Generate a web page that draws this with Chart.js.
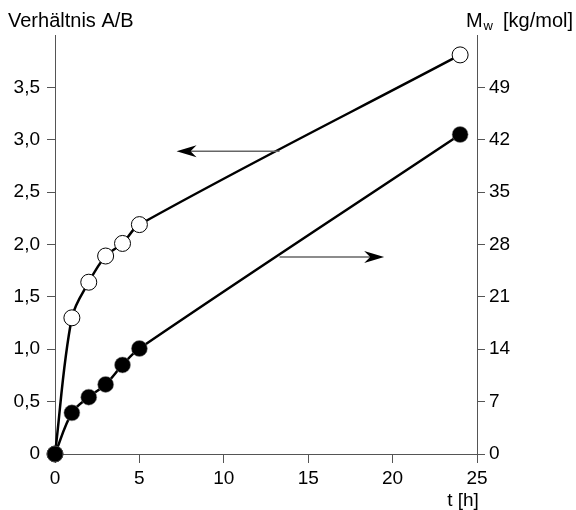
<!DOCTYPE html>
<html>
<head>
<meta charset="utf-8">
<script src="https://cdn.jsdelivr.net/npm/chart.js@4"></script>
<style>
  html, body { margin: 0; padding: 0; background: #fff; }
  #wrap { width: 576px; height: 510px; }
</style>
</head>
<body>
<div id="wrap"><canvas id="chart" width="576" height="510"></canvas></div>
<script>
// time in hours
const hours = [0, 1, 2, 3, 4, 5, 24];
// ratio A/B (left axis, open circles)
const ratioAB = [0, 1.30, 1.64, 1.89, 2.01, 2.19, 3.81];
// Mw in kg/mol (right axis, filled circles)
const molWeight = [0, 5.5, 7.6, 9.3, 11.9, 14.1, 42.7];

const xTicks = [0, 5, 10, 15, 20, 25];
// arrows in data units: [x from, x to, y on left axis]
const arrowLeft = [13.3, 7.2, 2.89];
const arrowRight = [13.3, 19.5, 1.88];

const FONT = '"Liberation Sans", Arial, sans-serif';
const axisColor = '#555';

const toPoints = (xs, ys) => xs.map((x, i) => ({ x: x, y: ys[i] }));

const decorations = {
  id: 'decorations',
  afterDatasetsDraw(chart) {
    const ctx = chart.ctx;
    const xs = chart.scales.x;
    const yl = chart.scales.y;

    const drawArrow = (a) => {
      const x1 = xs.getPixelForValue(a[0]);
      const x2 = xs.getPixelForValue(a[1]);
      const y = yl.getPixelForValue(a[2]);
      const dir = Math.sign(x2 - x1);
      ctx.save();
      ctx.strokeStyle = '#666';
      ctx.lineWidth = 1.5;
      ctx.beginPath();
      ctx.moveTo(x1, y);
      ctx.lineTo(x2 - dir * 10, y);
      ctx.stroke();
      ctx.fillStyle = '#000';
      ctx.beginPath();
      ctx.moveTo(x2, y);
      ctx.lineTo(x2 - dir * 20, y - 6);
      ctx.lineTo(x2 - dir * 14, y);
      ctx.lineTo(x2 - dir * 20, y + 6);
      ctx.closePath();
      ctx.fill();
      ctx.restore();
    };
    drawArrow(arrowLeft);
    drawArrow(arrowRight);

    ctx.save();
    ctx.fillStyle = '#000';
    ctx.font = '20px ' + FONT;
    ctx.textBaseline = 'alphabetic';
    ctx.textAlign = 'left';
    ctx.fillText('Verhältnis A/B', 8, 27);

    // M_w [kg/mol] with subscript
    ctx.textAlign = 'right';
    ctx.fillText('[kg/mol]', 573, 27);
    const wBracket = ctx.measureText('[kg/mol]').width;
    ctx.font = '13px ' + FONT;
    const subX = 573 - wBracket - 10;
    ctx.fillText('w', subX, 30);
    const wSub = ctx.measureText('w').width;
    ctx.font = '20px ' + FONT;
    ctx.fillText('M', subX - wSub - 1, 27);

    ctx.font = '19px ' + FONT;
    ctx.textAlign = 'center';
    ctx.textBaseline = 'middle';
    ctx.fillText('t [h]', 463, 501);
    ctx.restore();
  }
};

new Chart(document.getElementById('chart'), {
  type: 'line',
  data: {
    datasets: [
      {
        label: 'Mw',
        data: toPoints(hours, molWeight),
        yAxisID: 'y2',
        borderColor: '#000',
        borderWidth: 2.5,
        backgroundColor: '#000',
        pointBackgroundColor: '#000',
        pointBorderColor: '#888',
        pointBorderWidth: 0.5,
        pointRadius: 8,
        tension: 0.35,
        clip: false
      },
      {
        label: 'A/B',
        data: toPoints(hours, ratioAB),
        yAxisID: 'y',
        borderColor: '#000',
        borderWidth: 2.5,
        pointBackgroundColor: '#fff',
        pointBorderColor: '#000',
        pointBorderWidth: 1,
        pointRadius: 8,
        tension: 0.35,
        clip: false
      }
    ]
  },
  options: {
    responsive: false,
    animation: false,
    layout: { padding: { top: 35, left: 0, right: 0, bottom: 0 } },
    plugins: {
      legend: { display: false },
      tooltip: { enabled: false }
    },
    scales: {
      x: {
        type: 'linear',
        min: 0,
        max: 25,
        afterBuildTicks: (s) => { s.ticks = xTicks.map(v => ({ value: v })); },
        afterFit: (s) => { s.height = 56; },
        grid: { drawOnChartArea: false, drawTicks: true, tickLength: 9, color: axisColor },
        border: { display: true, color: axisColor, width: 1 },
        ticks: { color: '#000', font: { family: FONT, size: 19 }, padding: 4, maxRotation: 0 }
      },
      y: {
        position: 'left',
        min: 0,
        max: 4,
        afterBuildTicks: (s) => { s.ticks = s.ticks.filter(t => t.value < 4); },
        afterFit: (s) => { s.width = 55; },
        grid: { drawOnChartArea: false, drawTicks: true, tickLength: 8, color: axisColor },
        border: { display: true, color: axisColor, width: 1 },
        ticks: {
          stepSize: 0.5,
          color: '#000',
          font: { family: FONT, size: 19 },
          padding: 7,
          callback: (v) => v === 0 ? '0' : v.toFixed(1).replace('.', ',')
        }
      },
      y2: {
        position: 'right',
        min: 0,
        max: 56,
        afterBuildTicks: (s) => { s.ticks = s.ticks.filter(t => t.value < 56); },
        afterFit: (s) => { s.width = 99; },
        grid: { drawOnChartArea: false, drawTicks: true, tickLength: 8, color: axisColor },
        border: { display: true, color: axisColor, width: 1 },
        ticks: {
          stepSize: 7,
          color: '#000',
          font: { family: FONT, size: 19 },
          padding: 4
        }
      }
    }
  },
  plugins: [decorations]
});
</script>
</body>
</html>
